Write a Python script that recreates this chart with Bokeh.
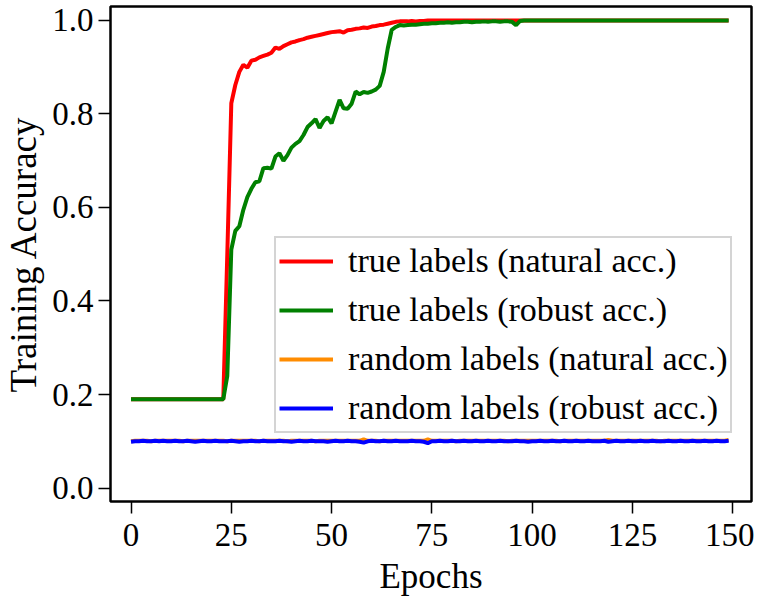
from bokeh.plotting import figure
from bokeh.models import FixedTicker, PrintfTickFormatter, Legend, LegendItem, ColumnDataSource
from bokeh.embed import file_html
from bokeh.resources import INLINE

epochs = list(range(150))

true_natural = [
    0.19, 0.19, 0.19, 0.19, 0.19, 0.19, 0.19, 0.19, 0.19, 0.19,
    0.19, 0.19, 0.19, 0.19, 0.19, 0.19, 0.19, 0.19, 0.19, 0.19,
    0.19, 0.19, 0.19, 0.19, 0.50, 0.823, 0.862, 0.890, 0.905, 0.899,
    0.914, 0.916, 0.921, 0.924, 0.927, 0.931, 0.942, 0.939, 0.945, 0.949,
    0.953, 0.955, 0.958, 0.960, 0.963, 0.965, 0.967, 0.969, 0.971, 0.973,
    0.975, 0.976, 0.977, 0.974, 0.979, 0.980, 0.982, 0.983, 0.985, 0.984,
    0.987, 0.988, 0.990, 0.991, 0.993, 0.995, 0.997, 0.998, 0.998, 0.998,
    0.999, 0.998, 0.999, 0.999, 1.0, 1.0, 1.0, 1.0, 1.0, 1.0,
    1.0, 1.0, 1.0, 1.0, 1.0, 1.0, 1.0, 1.0, 1.0, 1.0,
    1.0, 1.0, 1.0, 1.0, 1.0, 1.0, 1.0, 1.0, 1.0, 1.0,
    1.0, 1.0, 1.0, 1.0, 1.0, 1.0, 1.0, 1.0, 1.0, 1.0,
    1.0, 1.0, 1.0, 1.0, 1.0, 1.0, 1.0, 1.0, 1.0, 1.0,
    1.0, 1.0, 1.0, 1.0, 1.0, 1.0, 1.0, 1.0, 1.0, 1.0,
    1.0, 1.0, 1.0, 1.0, 1.0, 1.0, 1.0, 1.0, 1.0, 1.0,
    1.0, 1.0, 1.0, 1.0, 1.0, 1.0, 1.0, 1.0, 1.0, 1.0,
]

true_robust = [
    0.19, 0.19, 0.19, 0.19, 0.19, 0.19, 0.19, 0.19, 0.19, 0.19,
    0.19, 0.19, 0.19, 0.19, 0.19, 0.19, 0.19, 0.19, 0.19, 0.19,
    0.19, 0.19, 0.19, 0.19, 0.24, 0.51, 0.550, 0.560, 0.595, 0.622,
    0.640, 0.654, 0.656, 0.684, 0.685, 0.683, 0.709, 0.716, 0.700, 0.712,
    0.728, 0.736, 0.742, 0.755, 0.772, 0.780, 0.789, 0.770, 0.785, 0.793,
    0.780, 0.805, 0.830, 0.812, 0.811, 0.822, 0.848, 0.842, 0.847, 0.845,
    0.848, 0.852, 0.860, 0.890, 0.940, 0.980, 0.986, 0.990, 0.989, 0.990,
    0.991, 0.991, 0.992, 0.993, 0.993, 0.994, 0.994, 0.995, 0.995, 0.996,
    0.995, 0.996, 0.996, 0.997, 0.997, 0.996, 0.997, 0.997, 0.998, 0.997,
    0.998, 0.998, 0.997, 0.998, 0.998, 0.997, 0.990, 0.999, 1.0, 1.0,
    1.0, 1.0, 1.0, 1.0, 1.0, 1.0, 1.0, 1.0, 1.0, 1.0,
    1.0, 1.0, 1.0, 1.0, 1.0, 1.0, 1.0, 1.0, 1.0, 1.0,
    1.0, 1.0, 1.0, 1.0, 1.0, 1.0, 1.0, 1.0, 1.0, 1.0,
    1.0, 1.0, 1.0, 1.0, 1.0, 1.0, 1.0, 1.0, 1.0, 1.0,
    1.0, 1.0, 1.0, 1.0, 1.0, 1.0, 1.0, 1.0, 1.0, 1.0,
]

random_natural = [
    0.100, 0.101, 0.101, 0.101, 0.101, 0.100, 0.101, 0.101, 0.101, 0.101,
    0.101, 0.101, 0.101, 0.100, 0.101, 0.101, 0.101, 0.101, 0.101, 0.101,
    0.101, 0.101, 0.101, 0.101, 0.100, 0.101, 0.101, 0.101, 0.101, 0.101,
    0.101, 0.101, 0.100, 0.101, 0.101, 0.101, 0.101, 0.101, 0.101, 0.100,
    0.101, 0.101, 0.101, 0.101, 0.101, 0.101, 0.100, 0.101, 0.101, 0.101,
    0.101, 0.101, 0.101, 0.101, 0.101, 0.101, 0.101, 0.101, 0.104, 0.101,
    0.101, 0.101, 0.100, 0.101, 0.101, 0.101, 0.101, 0.101, 0.101, 0.101,
    0.101, 0.101, 0.101, 0.101, 0.104, 0.101, 0.101, 0.101, 0.101, 0.101,
    0.101, 0.100, 0.101, 0.101, 0.101, 0.101, 0.101, 0.101, 0.101, 0.101,
    0.101, 0.101, 0.101, 0.101, 0.100, 0.101, 0.101, 0.101, 0.101, 0.101,
    0.101, 0.101, 0.101, 0.101, 0.101, 0.101, 0.101, 0.100, 0.101, 0.101,
    0.101, 0.101, 0.101, 0.101, 0.101, 0.101, 0.101, 0.101, 0.101, 0.103,
    0.101, 0.101, 0.101, 0.101, 0.101, 0.101, 0.101, 0.101, 0.101, 0.101,
    0.101, 0.101, 0.100, 0.101, 0.101, 0.101, 0.101, 0.101, 0.101, 0.101,
    0.101, 0.101, 0.101, 0.101, 0.101, 0.101, 0.101, 0.101, 0.101, 0.103,
]

random_robust = [
    0.099, 0.100, 0.100, 0.101, 0.100, 0.100, 0.101, 0.100, 0.101, 0.100,
    0.100, 0.101, 0.100, 0.100, 0.101, 0.100, 0.099, 0.100, 0.101, 0.100,
    0.100, 0.101, 0.100, 0.100, 0.100, 0.101, 0.100, 0.099, 0.100, 0.100,
    0.101, 0.100, 0.100, 0.101, 0.100, 0.100, 0.100, 0.101, 0.100, 0.100,
    0.099, 0.100, 0.101, 0.100, 0.100, 0.101, 0.100, 0.100, 0.100, 0.099,
    0.100, 0.101, 0.100, 0.100, 0.101, 0.100, 0.100, 0.099, 0.097, 0.100,
    0.101, 0.100, 0.100, 0.101, 0.100, 0.100, 0.101, 0.100, 0.100, 0.100,
    0.101, 0.100, 0.100, 0.099, 0.096, 0.100, 0.100, 0.101, 0.100, 0.100,
    0.101, 0.100, 0.100, 0.101, 0.100, 0.100, 0.101, 0.100, 0.100, 0.101,
    0.100, 0.100, 0.101, 0.100, 0.100, 0.100, 0.101, 0.100, 0.100, 0.099,
    0.100, 0.100, 0.101, 0.100, 0.100, 0.101, 0.100, 0.100, 0.101, 0.100,
    0.100, 0.101, 0.100, 0.100, 0.101, 0.100, 0.100, 0.100, 0.101, 0.099,
    0.100, 0.101, 0.100, 0.100, 0.101, 0.100, 0.100, 0.101, 0.100, 0.100,
    0.101, 0.100, 0.100, 0.100, 0.101, 0.100, 0.100, 0.101, 0.100, 0.100,
    0.101, 0.100, 0.100, 0.101, 0.100, 0.100, 0.101, 0.100, 0.100, 0.101,
]

series_labels = [
    "true labels (natural acc.)",
    "true labels (robust acc.)",
    "random labels (natural acc.)",
    "random labels (robust acc.)",
]
series_colors = ["#ff0000", "#008000", "#ff8c00", "#0000ff"]
x_ticks = [0, 25, 50, 75, 100, 125, 150]
y_ticks = [0.0, 0.2, 0.4, 0.6, 0.8, 1.0]

FONT = "Liberation Serif"

p = figure(width=754, height=598, output_backend="svg", toolbar_location=None,
           x_range=(-5.12, 154.7), y_range=(-0.0288, 1.0298),
           min_border_left=110, min_border_right=3, min_border_top=6, min_border_bottom=95)
p.background_fill_color = "white"
p.border_fill_color = "white"
p.outline_line_color = "black"
p.outline_line_width = 2.5
p.xgrid.visible = False
p.ygrid.visible = False

src = ColumnDataSource(dict(x=epochs, a=true_natural, b=true_robust, c=random_natural, d=random_robust))
renderers = []
for col, color in zip(["a", "b", "c", "d"], series_colors):
    r = p.line("x", col, source=src, line_color=color, line_width=4)
    renderers.append(r)

for ax in (p.xaxis[0], p.yaxis[0]):
    ax.axis_line_color = None
    ax.major_tick_out = 12
    ax.major_tick_in = 0
    ax.major_tick_line_width = 1.5
    ax.major_tick_line_color = "black"
    ax.minor_tick_line_color = None
    ax.major_label_text_font = FONT
    ax.major_label_text_font_size = "33px"
    ax.major_label_text_color = "black"
    ax.axis_label_text_font = FONT
    ax.axis_label_text_font_style = "normal"
    ax.axis_label_text_color = "black"

p.xaxis[0].axis_label_text_font_size = "35px"
p.yaxis[0].axis_label_text_font_size = "37px"
p.xaxis[0].ticker = FixedTicker(ticks=x_ticks)
p.yaxis[0].ticker = FixedTicker(ticks=y_ticks)
p.yaxis[0].formatter = PrintfTickFormatter(format="%.1f")
p.xaxis[0].axis_label = "Epochs"
p.yaxis[0].axis_label = "Training Accuracy"
p.xaxis[0].major_label_standoff = 10
p.yaxis[0].major_label_standoff = 5
p.xaxis[0].axis_label_standoff = 8
p.yaxis[0].axis_label_standoff = 5

legend = Legend(items=[LegendItem(label=l, renderers=[r]) for l, r in zip(series_labels, renderers)],
                location=(164, 68))
legend.label_text_font = FONT
legend.label_text_font_size = "34px"
legend.label_text_color = "black"
legend.glyph_width = 54
legend.glyph_height = 40
legend.label_height = 40
legend.label_standoff = 15
legend.spacing = 9
legend.padding = 3
legend.margin = 0
legend.border_line_color = "#aaaaaa"
legend.border_line_width = 2
legend.background_fill_color = "white"
legend.background_fill_alpha = 0.85
p.add_layout(legend, "center")

open("out.html", "w").write(file_html(p, INLINE))
